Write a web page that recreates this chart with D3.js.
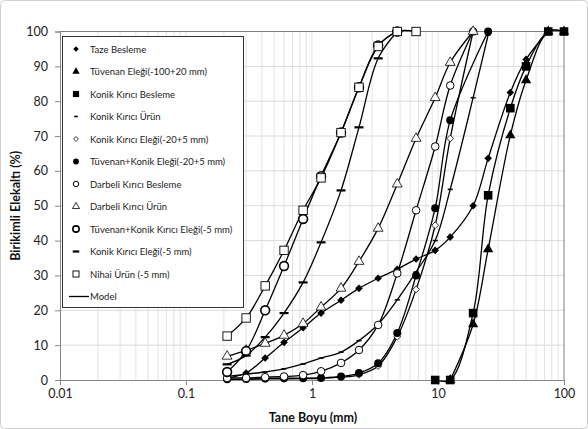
<!DOCTYPE html>
<html><head><meta charset="utf-8">
<script src="https://cdn.jsdelivr.net/npm/d3@7/dist/d3.min.js"></script>
<style>
html,body{margin:0;padding:0;background:#fff;}
svg text{font-family:Lato,"Open Sans",sans-serif;}
</style></head>
<body>
<svg id="c" width="588" height="429"></svg>
<script>
// ---- data ----
const sizes = [0.212,0.3,0.425,0.6,0.85,1.18,1.7,2.36,3.35,4.75,6.7,9.5,12.5,19,25,37.5,50,75,100];
const tazeBesleme   = [0.5,2,6.3,10.8,15,19.2,22.9,26.3,29.2,31.8,34.7,37.2,41,50,63.6,82.5,92,100,null];
const tuvenanElegi  = [null,null,null,null,null,null,null,null,null,null,null,null,0,16,37.5,70.2,86,100,100];
const konikBesleme  = [null,null,null,null,null,null,null,null,null,null,null,0,0,19.2,53,78,90,100,100];
const konikUrun     = [1,1.7,2.3,3.2,4.6,6.3,8,11.3,16,23,31,40,54.7,81,99,null,null,null,null];
const konikElegi205 = [0.2,0.2,0.3,0.3,0.4,0.5,0.8,1.5,4,12.4,26,44.4,69.3,100,null,null,null,null,null];
const tuvKonik205   = [0.2,0.3,0.4,0.5,0.5,0.6,1.0,2.0,4.8,13.5,30,49.3,74.5,null,100,null,null,null,null];
const darbeliBesleme= [0.6,0.6,0.8,1.0,1.4,2.5,4.9,8.6,15.8,30.6,48.7,67,84.5,100,null,null,null,null,null];
const darbeliUrun   = [6.8,8.5,10.5,12.8,16.2,20.9,26.3,34,43.5,56.2,69.3,81,91.1,100,null,null,null,null,null];
const tuvKonikKirici5 = [2.3,8.3,20,32.7,46.2,58.5,71,84,96,100,null,null,null,null,null,null,null,null,null];
const konikElegi5   = [4.5,7,12.3,19.2,28,39.5,54.4,72.5,92.3,100,null,null,null,null,null,null,null,null,null];
const nihaiUrun     = [12.6,17.8,27,37.2,48.7,58,71,84,95.7,100,100,null,null,null,null,null,null,null,null];

const seriesNames = ["Taze Besleme","Tüvenan Eleği(-100+20 mm)","Konik Kırıcı Besleme","Konik Kırıcı Ürün",
  "Konik Kırıcı Eleği(-20+5 mm)","Tüvenan+Konik Eleği(-20+5 mm)","Darbeli Kırıcı Besleme","Darbeli Kırıcı Ürün",
  "Tüvenan+Konik Kırıcı Eleği(-5 mm)","Konik Kırıcı Eleği(-5 mm)","Nihai Ürün (-5 mm)"];
const seriesValues = [tazeBesleme,tuvenanElegi,konikBesleme,konikUrun,konikElegi205,tuvKonik205,darbeliBesleme,darbeliUrun,tuvKonikKirici5,konikElegi5,nihaiUrun];
const markerTypes = ["fdiamond","ftriangle","fsquare","dash","odiamond","fcircle","ocircle","otriangle","ocircleBold","dashBold","osquare"];
const xTicks = [0.01,0.1,1,10,100];
const xTickLabels = ["0.01","0.1","1","10","100"];
const yTicks = [0,10,20,30,40,50,60,70,80,90,100];
const modelLabel = "Model";
const xTitle = "Tane Boyu (mm)";
const yTitle = "Birikimli Elekaltı (%)";

// ---- layout ----
const svg = d3.select("#c");
const L = 60, R = 564, T = 31.5, B = 380;
const x = d3.scaleLog().domain([0.01,100]).range([L,R]);
const y = d3.scaleLinear().domain([0,100]).range([B,T]);

svg.append("rect").attr("x",0.5).attr("y",0.5).attr("width",587).attr("height",428)
  .attr("rx",4).attr("fill","#fff").attr("stroke","#d0d0d0");

// gridlines
const minor = [];
for (let e=-2;e<2;e++) for (let k=1;k<=9;k++) { const v=k*Math.pow(10,e); if(v>0.01) minor.push(v); }
svg.append("g").selectAll("line").data(minor).join("line")
  .attr("x1",d=>x(d)).attr("x2",d=>x(d)).attr("y1",T).attr("y2",B)
  .attr("stroke","#e3e3e3").attr("stroke-width",1);
svg.append("g").selectAll("line").data(yTicks.filter(d=>d>0 && d<100)).join("line")
  .attr("x1",L).attr("x2",R).attr("y1",d=>y(d)).attr("y2",d=>y(d))
  .attr("stroke","#dadada").attr("stroke-width",1);
svg.append("line").attr("x1",L).attr("x2",R).attr("y1",T).attr("y2",T).attr("stroke","#7f7f7f");
svg.append("line").attr("x1",R).attr("x2",R).attr("y1",T).attr("y2",B).attr("stroke","#7f7f7f");

// axes
const xAxis = d3.axisBottom(x).tickValues(xTicks).tickFormat((d,i)=>xTickLabels[i]).tickSize(5).tickPadding(4);
const gx = svg.append("g").attr("transform",`translate(0,${B})`).call(xAxis);
const yAxis = d3.axisLeft(y).tickValues(yTicks).tickSize(5).tickPadding(7);
const gy = svg.append("g").attr("transform",`translate(${L},0)`).call(yAxis);
[gx,gy].forEach(g=>{
  g.select(".domain").attr("stroke","#868686");
  g.selectAll(".tick line").attr("stroke","#868686");
  g.selectAll(".tick text").attr("font-size",12.5).attr("fill","#222").attr("font-family","Lato,sans-serif");
});

svg.append("text").attr("x",(L+R)/2+1).attr("y",422).attr("text-anchor","middle")
  .attr("font-size",12.5).attr("font-weight","bold").attr("fill","#111").text(xTitle);
svg.append("text").attr("transform",`translate(20,${(T+B)/2}) rotate(-90)`).attr("text-anchor","middle")
  .attr("font-size",12.5).attr("font-weight","bold").attr("fill","#111").text(yTitle);

// markers
function diamondPath(h){ return `M0,${-h}L${h},0L0,${h}L${-h},0Z`; }
function drawMarker(g, type, s) {
  s = s || 1;
  switch(type){
    case "fdiamond": g.append("path").attr("d",diamondPath(3.8*s)).attr("fill","#000"); break;
    case "ftriangle": g.append("path").attr("d",d3.symbol(d3.symbolTriangle, 46*s*s)()).attr("fill","#000"); break;
    case "fsquare": g.append("rect").attr("x",-4.3*s).attr("y",-4.3*s).attr("width",8.6*s).attr("height",8.6*s).attr("fill","#000"); break;
    case "dash": g.append("rect").attr("x",-2.5*s).attr("y",-0.8).attr("width",5*s).attr("height",1.6).attr("fill","#000"); break;
    case "dashBold": g.append("rect").attr("x",-4.5*s).attr("y",-1.1).attr("width",9*s).attr("height",2.2).attr("fill","#000"); break;
    case "odiamond": g.append("path").attr("d",diamondPath(3.4*s)).attr("fill","#fff").attr("stroke","#000").attr("stroke-width",0.8); break;
    case "fcircle": g.append("circle").attr("r",4*s).attr("fill","#000"); break;
    case "ocircle": g.append("circle").attr("r",3.8*s).attr("fill","#fff").attr("stroke","#000").attr("stroke-width",1); break;
    case "otriangle": g.append("path").attr("d",d3.symbol(d3.symbolTriangle, 42*s*s)()).attr("fill","#fff").attr("stroke","#000").attr("stroke-width",0.8); break;
    case "ocircleBold": g.append("circle").attr("r",4.4*s).attr("fill","#fff").attr("stroke","#000").attr("stroke-width",1.6); break;
    case "osquare": g.append("rect").attr("x",-4.2*s).attr("y",-4.2*s).attr("width",8.4*s).attr("height",8.4*s).attr("fill","#fff").attr("stroke","#000").attr("stroke-width",0.9); break;
  }
}

const pts = seriesValues.map(vals => sizes.map((s,i)=>({s, v: vals[i]})).filter(p=>p.v!==null));
const line = d3.line().x(p=>x(p.s)).y(p=>Math.max(T, y(p.v))).curve(d3.curveCatmullRom.alpha(0.5));
const lg = svg.append("g");
pts.forEach((p,i)=>{
  lg.append("path").attr("d",line(p)).attr("fill","none").attr("stroke","#000").attr("stroke-width",1.3);
});
pts.forEach((p,i)=>{
  const g = svg.append("g");
  p.forEach(q=>{
    const m = g.append("g").attr("transform",`translate(${x(q.s)},${y(q.v)})`);
    drawMarker(m, markerTypes[i]);
  });
});

// legend
const leg = svg.append("g");
leg.append("rect").attr("x",62.5).attr("y",36.5).attr("width",181).attr("height",271)
  .attr("fill","#fff").attr("stroke","#333").attr("stroke-width",1);
const ly0 = 49, ldy = 22.5;
seriesNames.forEach((n,i)=>{
  const yy = ly0 + i*ldy;
  const m = leg.append("g").attr("transform",`translate(76,${yy})`);
  drawMarker(m, markerTypes[i], 0.72);
  leg.append("text").attr("x",90).attr("y",yy+3.5).attr("font-size",9.5).attr("fill","#222").text(n);
});
const my = ly0 + 11*ldy;
leg.append("line").attr("x1",69).attr("x2",89).attr("y1",my).attr("y2",my).attr("stroke","#000").attr("stroke-width",1.3);
leg.append("text").attr("x",90).attr("y",my+3.5).attr("font-size",9.5).attr("fill","#222").text(modelLabel);
</script>
</body></html>
